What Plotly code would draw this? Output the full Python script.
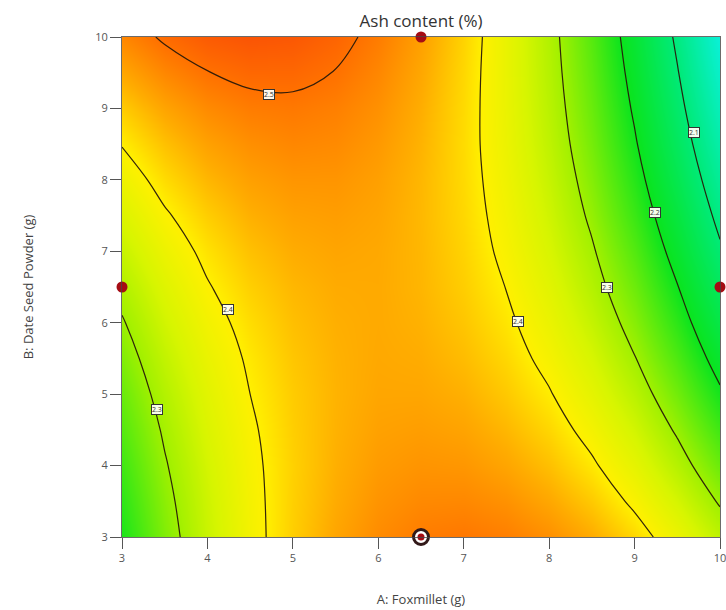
import plotly.graph_objects as go

# Factor grid (g)
foxmillet_A = [3.0, 3.5, 4.0, 4.5, 5.0, 5.5, 6.0, 6.5, 7.0, 7.5, 8.0, 8.5, 9.0, 9.5, 10.0]
date_seed_B = [3.0, 3.5, 4.0, 4.5, 5.0, 5.5, 6.0, 6.5, 7.0, 7.5, 8.0, 8.5, 9.0, 9.5, 10.0]

# Ash content (%), one row per B level
ash_B3_0 = [2.212, 2.279, 2.337, 2.385, 2.425, 2.456, 2.477, 2.490, 2.494, 2.488, 2.474, 2.451, 2.418, 2.377, 2.327]
ash_B3_5 = [2.223, 2.287, 2.341, 2.387, 2.424, 2.451, 2.470, 2.479, 2.480, 2.472, 2.454, 2.428, 2.392, 2.348, 2.295]
ash_B4_0 = [2.235, 2.296, 2.347, 2.390, 2.423, 2.448, 2.464, 2.470, 2.468, 2.456, 2.436, 2.406, 2.368, 2.320, 2.264]
ash_B4_5 = [2.249, 2.306, 2.355, 2.394, 2.425, 2.446, 2.459, 2.462, 2.457, 2.442, 2.419, 2.386, 2.345, 2.294, 2.235]
ash_B5_0 = [2.263, 2.318, 2.363, 2.400, 2.427, 2.445, 2.455, 2.455, 2.447, 2.429, 2.403, 2.367, 2.323, 2.269, 2.207]
ash_B5_5 = [2.279, 2.331, 2.373, 2.406, 2.431, 2.446, 2.453, 2.450, 2.438, 2.418, 2.388, 2.350, 2.302, 2.245, 2.180]
ash_B6_0 = [2.296, 2.345, 2.384, 2.414, 2.436, 2.448, 2.452, 2.446, 2.431, 2.408, 2.375, 2.333, 2.283, 2.223, 2.154]
ash_B6_5 = [2.315, 2.360, 2.397, 2.424, 2.442, 2.451, 2.452, 2.443, 2.425, 2.399, 2.363, 2.318, 2.265, 2.202, 2.130]
ash_B7_0 = [2.335, 2.377, 2.410, 2.435, 2.450, 2.456, 2.453, 2.442, 2.421, 2.391, 2.352, 2.305, 2.248, 2.182, 2.107]
ash_B7_5 = [2.356, 2.395, 2.425, 2.447, 2.459, 2.462, 2.456, 2.441, 2.418, 2.385, 2.343, 2.292, 2.232, 2.164, 2.086]
ash_B8_0 = [2.378, 2.415, 2.442, 2.460, 2.469, 2.469, 2.460, 2.442, 2.416, 2.380, 2.335, 2.281, 2.218, 2.146, 2.066]
ash_B8_5 = [2.402, 2.435, 2.459, 2.474, 2.481, 2.478, 2.466, 2.445, 2.415, 2.376, 2.328, 2.271, 2.205, 2.130, 2.047]
ash_B9_0 = [2.427, 2.457, 2.478, 2.490, 2.493, 2.487, 2.473, 2.449, 2.416, 2.374, 2.323, 2.263, 2.194, 2.116, 2.029]
ash_B9_5 = [2.454, 2.481, 2.499, 2.508, 2.508, 2.499, 2.481, 2.454, 2.418, 2.373, 2.319, 2.256, 2.184, 2.103, 2.013]
ash_B10_0 = [2.481, 2.505, 2.520, 2.526, 2.523, 2.511, 2.490, 2.460, 2.421, 2.373, 2.316, 2.250, 2.175, 2.091, 1.998]

ash_rows = [ash_B3_0, ash_B3_5, ash_B4_0, ash_B4_5, ash_B5_0, ash_B5_5, ash_B6_0,
            ash_B6_5, ash_B7_0, ash_B7_5, ash_B8_0, ash_B8_5, ash_B9_0, ash_B9_5, ash_B10_0]

# Contour labels (value and where the label sits)
label_text = ["2.5", "2.4", "2.3", "2.4", "2.3", "2.2", "2.1"]
label_A = [4.72, 4.24, 3.41, 7.64, 8.68, 9.24, 9.69]
label_B = [9.2, 6.18, 4.78, 6.02, 6.49, 7.54, 8.66]

# Design points
design_A = [6.5, 3.0, 10.0]
design_B = [10.0, 6.5, 6.5]
center_A = [6.5]
center_B = [3.0]

tick_vals = [3, 4, 5, 6, 7, 8, 9, 10]

zmin, zmax = 2.0, 2.53
def n(v):
    return (v - zmin) / (zmax - zmin)

colorscale = [
    [0.0, "rgb(10,240,215)"],
    [n(2.10), "rgb(0,234,120)"],
    [n(2.20), "rgb(10,228,30)"],
    [n(2.30), "rgb(160,240,0)"],
    [n(2.35), "rgb(215,245,0)"],
    [n(2.40), "rgb(255,240,0)"],
    [n(2.45), "rgb(255,172,0)"],
    [n(2.50), "rgb(255,112,0)"],
    [1.0, "rgb(250,80,5)"],
]

FONT = "Open Sans"

fig = go.Figure()
fig.add_trace(go.Heatmap(
    x=foxmillet_A, y=date_seed_B, z=ash_rows,
    zmin=zmin, zmax=zmax, colorscale=colorscale, zsmooth="best",
    showscale=False, hoverinfo="skip"))
fig.add_trace(go.Contour(
    x=foxmillet_A, y=date_seed_B, z=ash_rows,
    contours=dict(start=2.1, end=2.5, size=0.1, coloring="none"),
    line=dict(color="rgba(40,25,10,0.95)", width=1.2, smoothing=1.0),
    showscale=False, hoverinfo="skip"))
fig.add_trace(go.Scatter(
    x=design_A, y=design_B, mode="markers", cliponaxis=False,
    marker=dict(size=11, color="rgb(165,12,20)"), hoverinfo="skip", showlegend=False))
fig.add_trace(go.Scatter(
    x=center_A, y=center_B, mode="markers", cliponaxis=False,
    marker=dict(size=15, color="white", line=dict(width=3, color="rgb(50,25,25)")),
    hoverinfo="skip", showlegend=False))
fig.add_trace(go.Scatter(
    x=center_A, y=center_B, mode="markers", cliponaxis=False,
    marker=dict(size=7, color="rgb(165,12,20)"), hoverinfo="skip", showlegend=False))

for t, a, b in zip(label_text, label_A, label_B):
    fig.add_annotation(x=a, y=b, text=t, showarrow=False,
                       font=dict(size=7, color="#333", family=FONT),
                       bgcolor="rgba(255,255,245,0.95)", bordercolor="#333",
                       borderwidth=1, borderpad=0)

axis_common = dict(
    tickmode="array", tickvals=tick_vals, ticks="outside", ticklen=11,
    tickwidth=1, tickcolor="#555", showline=True, mirror=True,
    linecolor="rgba(70,70,70,0.8)", linewidth=1, showgrid=False, zeroline=False,
    tickfont=dict(size=11, color="#555", family=FONT), ticklabeloverflow="allow",
    automargin=False,
)

fig.update_layout(
    width=726, height=610,
    margin=dict(l=122, r=6, t=37, b=73, autoexpand=False),
    paper_bgcolor="white", plot_bgcolor="white",
    showlegend=False,
    title=dict(text="Ash content (%)", x=0.58, xanchor="center", y=0.966, yanchor="middle",
               font=dict(size=17, color="#333", family=FONT)),
    xaxis=dict(range=[3, 10], title=dict(text="A: Foxmillet (g)", standoff=30,
               font=dict(size=13, color="#444", family=FONT)), **axis_common),
    yaxis=dict(range=[3, 10], title=dict(text="B: Date Seed Powder (g)", standoff=58,
               font=dict(size=13, color="#444", family=FONT)), **axis_common),
)

fig.write_html(
    "out.html",
    config={"displayModeBar": False},
    post_script="document.body.style.margin='0';document.body.style.overflow='hidden';",
)
